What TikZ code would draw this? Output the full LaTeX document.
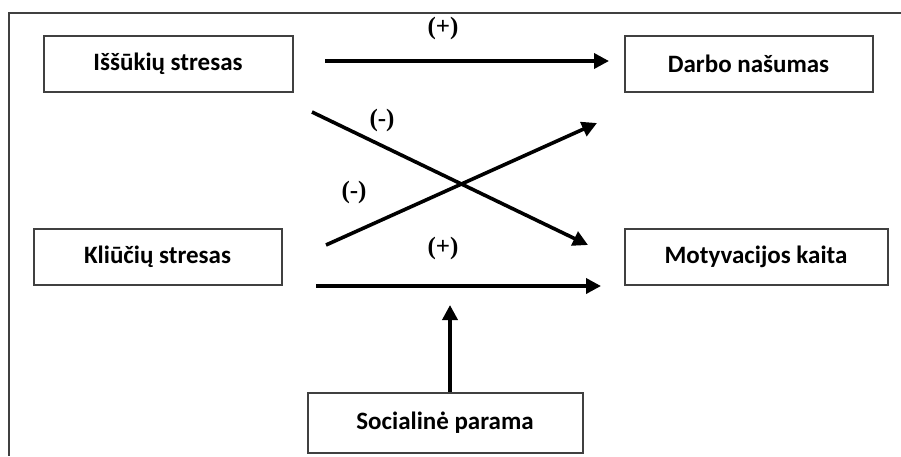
\documentclass[tikz,border=0pt]{standalone}
\usepackage{fontspec}
\setmainfont{Liberation Serif}
\newfontfamily\blokfont{Carlito}
\usetikzlibrary{arrows.meta}

\begin{document}
\begin{tikzpicture}[x=1pt,y=-1pt,
    blok/.style={draw=black!75,line width=2pt,minimum height=56pt,
      font=\blokfont\bfseries\fontsize{25}{28}\selectfont},
    rysys/.style={line width=3.6pt,-{Triangle[length=15pt,width=15pt]}},
    zenklas/.style={font=\bfseries\fontsize{25}{28}\selectfont}]
            \useasboundingbox (0,0) rectangle (901,456);
            \draw[black!75,line width=2pt] (901,13) -- (9,13) -- (9,456);

            % blokai
            \node[blok,minimum width=249pt] (issukiai) at (168,63.5) {Iššūkių stresas};
            \node[blok,minimum width=248pt] (kliutys) at (157.5,256.5) {Kliūčių stresas};
            \node[blok,minimum width=248pt] (nasumas) at (748.5,64) {Darbo našumas};
            \node[blok,minimum width=263pt] (motyvacija) at (756,256.5) {Motyvacijos kaita};
            \node[blok,minimum width=275pt,minimum height=60pt] (parama) at (445,422.5) {Socialinė parama};

            % rodykliu galai
            \coordinate (A1) at (325,61);
            \coordinate (B1) at (609,61);
            \coordinate (A2) at (312,112);
            \coordinate (B2) at (588,245);
            \coordinate (A3) at (326,245);
            \coordinate (B3) at (597,123);
            \coordinate (A4) at (316,286);
            \coordinate (B4) at (601,286);
            \coordinate (C4) at (450,305);

            \draw[rysys] (A1) -- (B1);
            \draw[rysys] (A2) -- (B2);
            \draw[rysys] (A3) -- (B3);
            \draw[rysys] (A4) -- (B4);
            \draw[rysys] (parama.north -| C4) -- (C4);

            \node[zenklas] (p1) at (443,28) {(+)};
            \node[zenklas] (m1) at (382,120) {(-)};
            \node[zenklas] (m2) at (354,192) {(-)};
            \node[zenklas] (p2) at (443,248) {(+)};
        \end{tikzpicture}
\end{document}
